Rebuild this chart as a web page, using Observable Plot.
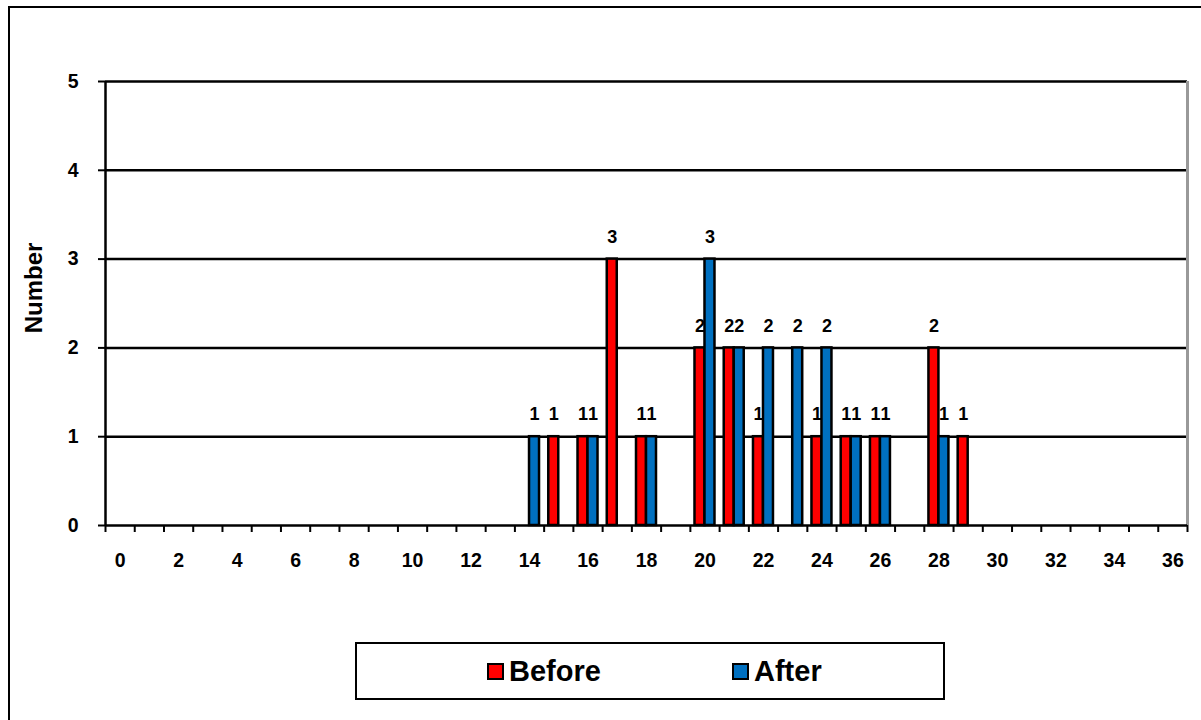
<!DOCTYPE html>
<html>
<head>
<meta charset="utf-8">
<script src="https://cdn.jsdelivr.net/npm/d3@7"></script>
<script src="https://cdn.jsdelivr.net/npm/@observablehq/plot@0.6"></script>
<style>
  body { margin: 0; background: #fff; }
  #wrap { position: relative; width: 1201px; height: 720px; overflow: hidden; font-family: "Liberation Sans", Arial, sans-serif; }
  #border { position: absolute; left: 8px; top: 6px; width: 1400px; height: 900px; border-left: 2px solid #000; border-top: 2px solid #000; }
  #chart { position: absolute; left: 0; top: 0; }
  #ylabel { position: absolute; left: 34px; top: 288px; transform: translate(-50%, -50%) rotate(-90deg); font-weight: bold; font-size: 24px; white-space: nowrap; color: #000; }
  #legend { position: absolute; left: 355px; top: 642px; width: 586px; height: 54px; border: 2px solid #000; background: #fff; }
  .item { position: absolute; top: 0; height: 54px; display: flex; align-items: center; font-weight: bold; font-size: 29px; color: #000; }
  .sw { width: 13px; height: 13px; border: 2px solid #000; margin-right: 5px; }
</style>
</head>
<body>
<div id="wrap">
  <div id="border"></div>
  <div id="chart"></div>
  <div id="ylabel"></div>
  <div id="legend"></div>
</div>
<script>
// ---- data ----
const categories = [0,1,2,3,4,5,6,7,8,9,10,11,12,13,14,15,16,17,18,19,20,21,22,23,24,25,26,27,28,29,30,31,32,33,34,35,36];
const before     = [0,0,0,0,0,0,0,0,0,0,0, 0, 0, 0, 0, 1, 1, 3, 1, 0, 2, 2, 1, 0, 1, 1, 1, 0, 2, 1, 0, 0, 0, 0, 0, 0, 0];
const after      = [0,0,0,0,0,0,0,0,0,0,0, 0, 0, 0, 1, 0, 1, 0, 1, 0, 3, 2, 2, 2, 2, 1, 1, 0, 1, 0, 0, 0, 0, 0, 0, 0, 0];
const xTickLabels = [0,2,4,6,8,10,12,14,16,18,20,22,24,26,28,30,32,34,36];
const yTicks = [0,1,2,3,4,5];
const seriesNames = ["Before", "After"];
const seriesColors = ["#FF0000", "#0070C0"];
const yLabel = "Number";

// ---- layout ----
const W = 1201, H = 600;
const mL = 105, mR = 14, mT = 81, mB = 75;
const bw = (W - mL - mR) / categories.length;
const barW = 10;

const rowsBefore = categories.map((c, i) => ({cat: c, value: before[i]})).filter(d => d.value > 0);
const rowsAfter  = categories.map((c, i) => ({cat: c, value: after[i]})).filter(d => d.value > 0);

const font = "'Liberation Sans', Arial, sans-serif";

const chart = Plot.plot({
  width: W,
  height: H,
  marginLeft: mL,
  marginRight: mR,
  marginTop: mT,
  marginBottom: mB,
  style: {fontFamily: font, fontWeight: "bold", color: "#000", background: "transparent", overflow: "visible"},
  x: {type: "band", domain: categories, padding: 0, round: false},
  y: {domain: [0, 5]},
  marks: [
    // gridlines
    Plot.ruleY(yTicks.filter(d => d > 0), {stroke: "#000", strokeWidth: 2.5}),
    // bars
    Plot.barY(rowsBefore, {x: "cat", y: "value", fill: seriesColors[0], stroke: "#000", strokeWidth: 2.5,
      insetLeft: bw / 2 - barW, insetRight: bw / 2}),
    Plot.barY(rowsAfter, {x: "cat", y: "value", fill: seriesColors[1], stroke: "#000", strokeWidth: 2.5,
      insetLeft: bw / 2, insetRight: bw / 2 - barW}),
    // right edge (gray)
    Plot.ruleX([categories[categories.length - 1]], {x: d => d, dx: bw / 2, stroke: "#999", strokeWidth: 3}),
    // x axis baseline
    Plot.ruleY([0], {stroke: "#000", strokeWidth: 2.5}),
    // left axis line
    Plot.ruleX([categories[0]], {x: d => d, dx: -bw / 2, stroke: "#000", strokeWidth: 2.5}),
    // x tick marks at category boundaries
    Plot.axisX(categories, {tickSize: 7, dx: -bw / 2, tickFormat: () => "", strokeWidth: 2, label: null}),
    Plot.axisX([categories[categories.length - 1]], {tickSize: 7, dx: bw / 2, tickFormat: () => "", strokeWidth: 2, label: null}),
    // x tick labels
    Plot.axisX(xTickLabels, {tickSize: 0, tickPadding: 28, fontSize: 19.5, fontWeight: "bold", label: null}),
    // y axis
    Plot.axisY(yTicks, {tickSize: 7, tickPadding: 20, tickFormat: d3.format("d"), fontSize: 19.5, fontWeight: "bold", strokeWidth: 2, label: null}),
    // data labels
    Plot.text(rowsBefore, {x: "cat", y: "value", text: d => String(d.value), dx: -barW / 2, dy: -22,
      fontSize: 18, fontWeight: "bold", fill: "#000"}),
    Plot.text(rowsAfter, {x: "cat", y: "value", text: d => String(d.value), dx: barW / 2, dy: -22,
      fontSize: 18, fontWeight: "bold", fill: "#000"})
  ]
});
document.getElementById("chart").appendChild(chart);

document.getElementById("ylabel").textContent = yLabel;

// ---- legend ----
const legend = document.getElementById("legend");
const legendX = [130, 375];
seriesNames.forEach((name, i) => {
  const item = document.createElement("div");
  item.className = "item";
  item.style.left = legendX[i] + "px";
  const sw = document.createElement("div");
  sw.className = "sw";
  sw.style.background = seriesColors[i];
  const t = document.createElement("span");
  t.textContent = name;
  item.appendChild(sw);
  item.appendChild(t);
  legend.appendChild(item);
});
</script>
</body>
</html>
